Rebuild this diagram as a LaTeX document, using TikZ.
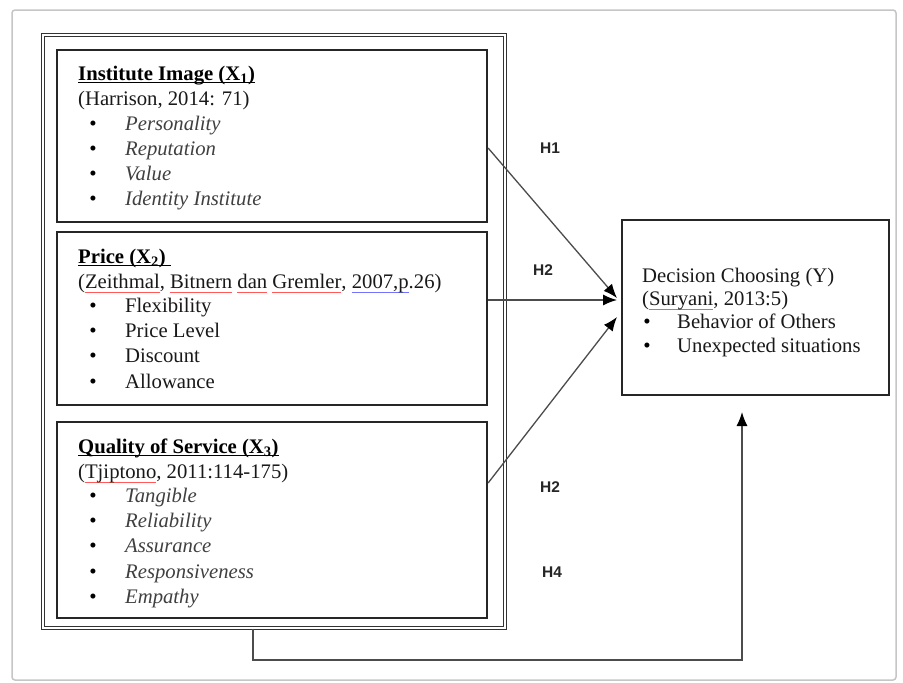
\documentclass[tikz,border=0pt]{standalone}
\usepackage{fontspec}
\setmainfont{Liberation Serif}
\newfontfamily\hfont{Liberation Sans}
\usetikzlibrary{arrows.meta,calc}
\newcommand\myul[3]{\setbox0\hbox{#3}\rlap{\textcolor{#1}{\rule[#2]{\wd0}{1.1pt}}}\box0\relax}
\newcommand\redul[1]{\myul{red!65}{-0.24em}{#1}}
\newcommand\blueul[1]{\myul{blue!55}{-0.24em}{#1}}
\newcommand\titul[1]{\myul{black}{-0.16em}{#1}}
\begin{document}
\begin{tikzpicture}[x=1pt,y=-1pt,
  box/.style={draw=black!85, line width=2.2pt, rectangle, inner sep=0pt},
  outerbox/.style={draw=black!80, line width=1pt, double, double distance=1.6pt, rectangle, inner sep=0pt},
  txt/.style={anchor=base west, inner sep=0pt, font=\fontsize{20.7}{25}\selectfont, text=black!90},
  itm/.style={txt, font=\fontsize{20.7}{25}\selectfont\itshape, text=black!75},
  bul/.style={anchor=base, inner sep=0pt, font=\fontsize{21}{25}\selectfont, text=black},
  hlab/.style={inner sep=0pt, font=\hfont\fontsize{15.5}{18}\selectfont\bfseries, text=black!85},
  arr/.style={draw=black!70, line width=1.3pt, -{Latex[length=14pt,width=11pt,color=black]}}
]
\useasboundingbox (0,0) rectangle (903,683);
\fill[white] (0,0) rectangle (903,683);
\draw[gray!45, line width=1.5pt, rounded corners=3pt] (12,10) rectangle (896,680);

% boxes
\node[outerbox, minimum width=462pt, minimum height=593pt] (outer) at (274,331.5) {};
\node[box, minimum width=430pt, minimum height=172pt] (x1) at (272,136) {};
\node[box, minimum width=430pt, minimum height=173pt] (x2) at (272,318.5) {};
\node[box, minimum width=430pt, minimum height=196pt] (x3) at (272,520) {};
\node[box, minimum width=267pt, minimum height=175pt] (y) at (755.5,307.5) {};

% box 1 text
\node[txt, text=black] (t1a) at (78,80) {\titul{\textbf{Institute Image (X\textsubscript{1})}}};
\node[txt] (t1b) at (78,105) {(Harrison, 2014: 71)};
\foreach \t [count=\i] in {Personality, Reputation, Value, Identity Institute} {
  \node[bul] (b1\i) at (93,{105+25*\i}) {\textbullet};
  \node[itm] (i1\i) at (125,{105+25*\i}) {\t};
}

% box 2 text
\node[txt, text=black] (t2a) at (78,263) {\titul{\textbf{Price (X\textsubscript{2})\ }}};
\node[txt] (t2b) at (78,288) {(\redul{Zeithmal}, \redul{Bitnern} \redul{dan} \redul{Gremler}, \blueul{2007,p}.26)};
\foreach \t [count=\i] in {Flexibility, Price Level, Discount, Allowance} {
  \node[bul] (b2\i) at (93,{287+25.3*\i}) {\textbullet};
  \node[txt] (i2\i) at (125,{287+25.3*\i}) {\t};
}

% box 3 text
\node[txt, text=black] (t3a) at (78,453) {\titul{\textbf{Quality of Service (X\textsubscript{3})}}};
\node[txt] (t3b) at (78,478) {(\redul{Tjiptono}, 2011:114-175)};
\foreach \t [count=\i] in {Tangible, Reliability, Assurance, Responsiveness, Empathy} {
  \node[bul] (b3\i) at (93,{477+25.3*\i}) {\textbullet};
  \node[itm] (i3\i) at (125,{477+25.3*\i}) {\t};
}

% Y box text
\node[txt] (tya) at (642,282) {Decision Choosing (Y)};
\node[txt] (tyb) at (642,305) {(\redul{Suryani}, 2013:5)};
\foreach \t [count=\i] in {Behavior of Others, Unexpected situations} {
  \node[bul] (by\i) at (647,{305+23.5*\i}) {\textbullet};
  \node[txt] (iy\i) at (677,{305+23.5*\i}) {\t};
}

% connector endpoints
\coordinate (yin1) at (617,298);
\coordinate (yin2) at (617,300);
\coordinate (yin3) at (617,317);
\coordinate (yin4) at (742,412);
\coordinate (c1) at (253,660);

\draw[arr] ($(x1.east)+(0,12)$) -- (yin1);
\draw[arr] (x2.east |- yin2) -- (yin2);
\draw[arr] ($(x3.east)+(0,-37)$) -- (yin3);
\draw[arr] (outer.south -| c1) -- (c1) -| (yin4);

% labels
\node[hlab] (h1) at (550,148) {H1};
\node[hlab] (h2) at (543,270) {H2};
\node[hlab] (h3) at (550,487) {H2};
\node[hlab] (h4) at (552,572) {H4};
\end{tikzpicture}
\end{document}
